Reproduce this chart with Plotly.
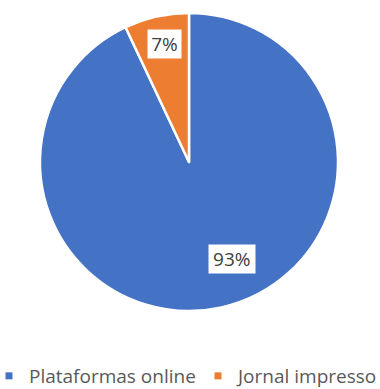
import math
import plotly.graph_objects as go

labels = ["Plataformas online", "Jornal impresso"]
values = [93, 7]
colors = ["#4472C4", "#ED7D31"]
# label placement inside each slice: fraction of slice sweep, fraction of radius
label_angle_frac = [0.466, 0.54]
label_radius_frac = [0.71, 0.81]

W, H = 380, 389
cx, cy, R = 189, 162, 149  # pixel center / radius (from top)

fig = go.Figure()
fig.add_trace(go.Pie(
    labels=labels, values=values, sort=False, direction="clockwise", rotation=0,
    marker=dict(colors=colors, line=dict(color="white", width=2.5)),
    textinfo="none", hoverinfo="label+percent", showlegend=False,
    domain=dict(x=[(cx - R) / W, (cx + R) / W], y=[(H - cy - R) / H, (H - cy + R) / H]),
))

# legend entries (one legend box per entry so they can sit side by side)
legend_ids = ["legend", "legend2"]
for lab, col, lid in zip(labels, colors, legend_ids):
    fig.add_trace(go.Scatter(x=[None], y=[None], mode="markers", name=lab, legend=lid,
                             marker=dict(symbol="square", size=7, color=col)))

total = sum(values)
start = 0.0
for v, af, rf in zip(values, label_angle_frac, label_radius_frac):
    sweep = v / total * 360
    mid = start + sweep * af
    start += sweep
    ang = math.radians(mid)
    px = cx + rf * R * math.sin(ang)
    py = cy - rf * R * math.cos(ang)
    txt = f"{round(v / total * 100)}%"
    fig.add_annotation(x=px / W, y=1 - py / H, xref="paper", yref="paper",
                       text=txt, showarrow=False, xanchor="center", yanchor="middle",
                       bgcolor="white", borderpad=2, width=len(txt) * 12.5 + 4, height=24,
                       font=dict(family="Open Sans", size=19, color="#404040"))

leg_style = dict(orientation="h", xanchor="left", yanchor="middle", y=1 - 376 / H,
                 itemsizing="trace", bgcolor="rgba(0,0,0,0)",
                 font=dict(family="Open Sans", size=19, color="#595959"))

fig.update_layout(
    width=W, height=H, margin=dict(l=0, r=0, t=0, b=0, autoexpand=False),
    paper_bgcolor="white", plot_bgcolor="white",
    xaxis=dict(visible=False), yaxis=dict(visible=False),
    showlegend=True,
    legend=dict(x=-11 / W, **leg_style),
    legend2=dict(x=198 / W, **leg_style),
)
fig.write_html("out.html")
